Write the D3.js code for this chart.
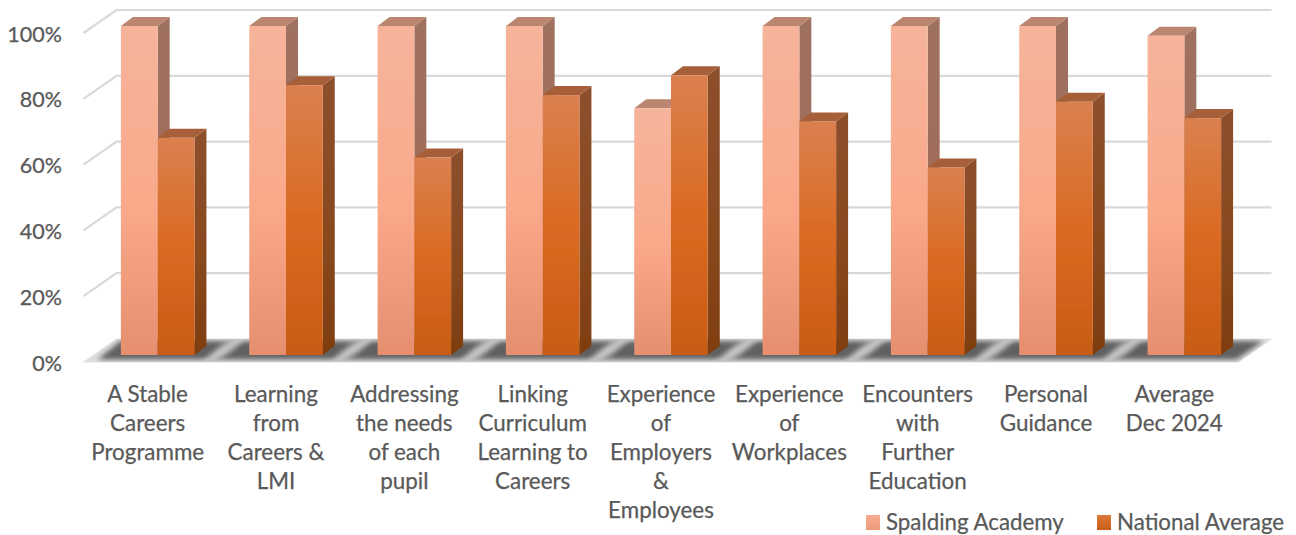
<!DOCTYPE html>
<html>
<head>
<meta charset="utf-8">
<script src="https://cdn.jsdelivr.net/npm/d3@7"></script>
<style>
    html, body { margin: 0; padding: 0; background: #fff; }
    svg { display: block; }
    text { font-family: Lato, "Open Sans", sans-serif; fill: #595959; stroke: #595959; stroke-width: 0.25; }
</style>
</head>
<body>
<div id="chart"></div>
<script>
// chart values
const categories = [
    ["A Stable", "Careers", "Programme"],
    ["Learning", "from", "Careers &", "LMI"],
    ["Addressing", "the needs", "of each", "pupil"],
    ["Linking", "Curriculum", "Learning to", "Careers"],
    ["Experience", "of", "Employers", "&", "Employees"],
    ["Experience", "of", "Workplaces"],
    ["Encounters", "with", "Further", "Education"],
    ["Personal", "Guidance"],
    ["Average", "Dec 2024"]
];
const spalding = [100, 100, 100, 100, 75, 100, 100, 100, 97];
const national = [66, 82, 60, 79, 85, 71, 57, 77, 72];
const yTicks = [0, 20, 40, 60, 80, 100];
const seriesNames = ["Spalding Academy", "National Average"];

const width = 1296, height = 535;

// front plane of the bars
const y = d3.scaleLinear().domain([0, 100]).range([355, 26]);
const x = d3.scaleBand().domain(d3.range(categories.length))
    .range([93.5, 1248.5]).paddingInner(0.427).paddingOuter(0.2135);
const xSeries = d3.scaleBand().domain([0, 1]).range([0, x.bandwidth()]);

// 3d offsets
const barDepth = {dx: 12, dy: -9};
const wallShift = {dx: 23, dy: -16};   // front plane -> back wall
const floorFront = {dx: -10, dy: 7};   // front plane -> front edge of the floor

const svg = d3.select("#chart").append("svg")
    .attr("width", width)
    .attr("height", height);

const defs = svg.append("defs");

function addGradient(id, stops) {
    const g = defs.append("linearGradient").attr("id", id)
        .attr("x1", 0).attr("y1", 0).attr("x2", 0).attr("y2", 1);
    stops.forEach(s => g.append("stop").attr("offset", s[0]).attr("stop-color", s[1]));
}
addGradient("frontLight", [[0, "#f6b49b"], [0.55, "#faa98a"], [1, "#e58f6f"]]);
addGradient("sideLight", [[0, "#9f7160"], [0.55, "#a06c58"], [1, "#96604a"]]);
addGradient("frontDark", [[0, "#da804f"], [0.5, "#da6a22"], [1, "#c85c14"]]);
addGradient("sideDark", [[0, "#8c4f2d"], [0.5, "#8a4a20"], [1, "#7f3d0f"]]);
addGradient("legendLight", [[0, "#f7ae92"], [1, "#ee9a7a"]]);
addGradient("legendDark", [[0, "#dc7a3c"], [1, "#c85c14"]]);

defs.append("filter").attr("id", "soft")
    .attr("x", "-5%").attr("y", "-30%").attr("width", "110%").attr("height", "160%")
    .append("feGaussianBlur").attr("stdDeviation", 2.4);
defs.append("filter").attr("id", "softer")
    .attr("x", "-50%").attr("y", "-100%").attr("width", "200%").attr("height", "300%")
    .append("feGaussianBlur").attr("stdDeviation", 2.6);
defs.append("filter").attr("id", "barEdge")
    .attr("x", "-5%").attr("y", "-5%").attr("width", "110%").attr("height", "110%")
    .append("feGaussianBlur").attr("stdDeviation", 0.45);

const poly = pts => pts.map(p => p.join(",")).join(" ");

// walls: gridlines on the back wall and down the left side
const xLeft = x.range()[0] + floorFront.dx;
const xRight = x.range()[1] + floorFront.dx;
const grid = svg.append("g").attr("fill", "none").attr("stroke", "#d9d9d9").attr("stroke-width", 2.2);

yTicks.filter(d => d > 0).forEach(d => {
    const yFront = y(d) + floorFront.dy;
    const yBack = y(d) + wallShift.dy;
    grid.append("polyline")
        .attr("points", poly([[xLeft, yFront], [x.range()[0] + wallShift.dx, yBack], [x.range()[1] + wallShift.dx, yBack]]));
});

// floor with its shadow
const floorPts = [
    [xLeft, y(0) + floorFront.dy],
    [x.range()[0] + wallShift.dx, y(0) + wallShift.dy],
    [x.range()[1] + wallShift.dx, y(0) + wallShift.dy],
    [xRight, y(0) + floorFront.dy]
];
svg.append("polygon")
    .attr("points", poly(floorPts))
    .attr("fill", "#dedede")
    .attr("stroke", "#e4e4e4");
defs.append("clipPath").attr("id", "floorClip").append("polygon").attr("points", poly(floorPts));

const floorShade = svg.append("g").attr("clip-path", "url(#floorClip)");
floorShade.append("polygon")
    .attr("points", poly([
        [xLeft + 14, y(0) + floorFront.dy - 2.5],
        [x.range()[0] + wallShift.dx + 4, y(0) + wallShift.dy + 2],
        [x.range()[1] + wallShift.dx - 8, y(0) + wallShift.dy + 2],
        [xRight - 2, y(0) + floorFront.dy - 2.5]
    ]))
    .attr("fill", "#606060")
    .attr("filter", "url(#soft)");

// light streaks where the floor shows between the bars
categories.forEach((c, i) => {
    if (i === categories.length - 1) return;
    const gapX = x(i) + x.bandwidth() + x.step() * 0.2 + 4;
    floorShade.append("ellipse")
        .attr("cx", gapX)
        .attr("cy", y(0) - 5)
        .attr("rx", 26)
        .attr("ry", 5)
        .attr("transform", `rotate(-35 ${gapX} ${y(0) - 5})`)
        .attr("fill", "#c6c6c6")
        .attr("filter", "url(#softer)");
});

// bars
function drawBar(g, cx, w, val, front, side, top) {
    const x0 = cx, x1 = cx + w;
    const yTop = y(val), yBase = y(0);
    const dx = barDepth.dx, dy = barDepth.dy;
    g.append("polygon")
        .attr("points", poly([[x1, yTop], [x1 + dx, yTop + dy], [x1 + dx, yBase + dy], [x1, yBase]]))
        .attr("fill", side);
    g.append("polygon")
        .attr("points", poly([[x0, yTop], [x0 + dx, yTop + dy], [x1 + dx, yTop + dy], [x1, yTop]]))
        .attr("fill", top);
    g.append("rect")
        .attr("x", x0).attr("y", yTop)
        .attr("width", w).attr("height", yBase - yTop)
        .attr("fill", front);
}

const bars = svg.append("g").attr("class", "bars");
categories.forEach((c, i) => {
    const g = bars.append("g").attr("filter", "url(#barEdge)");
    drawBar(g, x(i) + xSeries(0), xSeries.bandwidth(), spalding[i],
        "url(#frontLight)", "url(#sideLight)", "#bb8670");
    drawBar(g, x(i) + xSeries(1), xSeries.bandwidth(), national[i],
        "url(#frontDark)", "url(#sideDark)", "#a65f39");
});

// y axis labels
svg.append("g").selectAll("text")
    .data(yTicks)
    .join("text")
    .attr("x", 62)
    .attr("y", d => y(d) + 15.5)
    .attr("text-anchor", "end")
    .attr("font-size", 21.5)
    .text(d => d + "%");

// category labels
const xLabels = svg.append("g");
categories.forEach((lines, i) => {
    const t = xLabels.append("text")
        .attr("text-anchor", "middle")
        .attr("font-size", 22.4);
    lines.forEach((line, j) => {
        t.append("tspan")
            .attr("x", x(i) + x.bandwidth() / 2 + floorFront.dx)
            .attr("y", 401.5 + j * 29.2)
            .text(line);
    });
});

// legend
const legendX = [866, 1097];
const legendFill = ["url(#legendLight)", "url(#legendDark)"];
const legend = svg.append("g");
seriesNames.forEach((name, i) => {
    legend.append("rect")
        .attr("x", legendX[i]).attr("y", 515)
        .attr("width", 14).attr("height", 15)
        .attr("fill", legendFill[i]);
    legend.append("text")
        .attr("x", legendX[i] + 20).attr("y", 529.5)
        .attr("font-size", 22.3)
        .text(name);
});
</script>
</body>
</html>
